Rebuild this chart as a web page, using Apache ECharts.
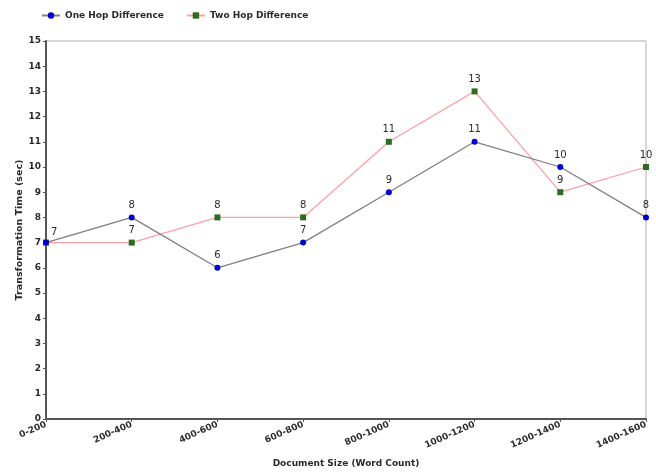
<!DOCTYPE html>
<html>
<head>
<meta charset="utf-8">
<script src="https://cdn.jsdelivr.net/npm/echarts@6/dist/echarts.min.js"></script>
<style>
  html, body { margin: 0; padding: 0; background: #fff; }
  #chart { width: 656px; height: 473px; }
</style>
</head>
<body>
<div id="chart"></div>
<script>
// Document size buckets (word count)
const categories = ['0-200', '200-400', '400-600', '600-800', '800-1000', '1000-1200', '1200-1400', '1400-1600'];
// Transformation time in seconds
const oneHop = [7, 8, 6, 7, 9, 11, 10, 8];
const twoHop = [7, 7, 8, 8, 11, 13, 9, 10];
const yTicks = { min: 0, max: 15, interval: 1 };

const FONT = '"DejaVu Sans", sans-serif';
const TEXT = '#2a2a2a';

const chart = echarts.init(document.getElementById('chart'));
chart.setOption({
  animation: false,
  backgroundColor: '#ffffff',
  textStyle: { fontFamily: FONT },
  legend: {
    left: 36,
    top: 6,
    itemWidth: 18,
    itemHeight: 8,
    itemGap: 22,
    textStyle: { fontSize: 9, color: TEXT, fontFamily: FONT, fontWeight: 'bold' },
    data: [
      { name: 'One Hop Difference' },
      { name: 'Two Hop Difference' }
    ]
  },
  grid: {
    left: 46, right: 10, top: 41, bottom: 54,
    show: true,
    borderColor: '#b0b0b0',
    borderWidth: 1,
    containLabel: false
  },
  xAxis: {
    type: 'category',
    data: categories,
    boundaryGap: false,
    name: 'Document Size (Word Count)',
    nameLocation: 'middle',
    nameGap: 40,
    nameMoveOverlap: false,
    nameTextStyle: { fontSize: 9, color: TEXT, fontFamily: FONT, fontWeight: 'bold' },
    axisLine: { lineStyle: { color: '#555', width: 2 } },
    axisTick: { show: true, length: 3, lineStyle: { color: '#555' } },
    axisLabel: { rotate: 24, fontSize: 9, color: TEXT, margin: 5, fontFamily: FONT, fontWeight: 'bold' },
    splitLine: { show: false }
  },
  yAxis: {
    type: 'value',
    min: yTicks.min,
    max: yTicks.max,
    interval: yTicks.interval,
    name: 'Transformation Time (sec)',
    nameLocation: 'middle',
    nameGap: 21,
    nameMoveOverlap: false,
    nameTextStyle: { fontSize: 9.5, color: TEXT, fontFamily: FONT, fontWeight: 'bold' },
    axisLine: { show: true, lineStyle: { color: '#555', width: 2 } },
    axisTick: { show: true, length: 3, lineStyle: { color: '#555' } },
    axisLabel: { fontSize: 9, color: TEXT, margin: 5, fontFamily: FONT, fontWeight: 'bold' },
    splitLine: { show: false }
  },
  series: [
    {
      name: 'One Hop Difference',
      type: 'line',
      // the shared first point carries a single label, drawn by the other series
      data: oneHop.map((v, i) => i === 0 ? { value: v, label: { show: false } } : v),
      symbol: 'circle',
      symbolSize: 6,
      z: 3,
      itemStyle: { color: '#0000cc' },
      lineStyle: { color: '#7f7f7f', width: 1.3 },
      label: { show: true, position: 'top', fontSize: 10, color: TEXT, distance: 4, fontFamily: FONT }
    },
    {
      name: 'Two Hop Difference',
      type: 'line',
      data: twoHop.map((v, i) => i === 0
        ? { value: v, label: { position: 'right', offset: [-2, -10] } }
        : v),
      symbol: 'rect',
      symbolSize: 6,
      z: 2,
      itemStyle: { color: '#2e6b1e' },
      lineStyle: { color: '#ff9fa6', width: 1.3 },
      label: { show: true, position: 'top', fontSize: 10, color: TEXT, distance: 4, fontFamily: FONT }
    }
  ]
});
</script>
</body>
</html>
